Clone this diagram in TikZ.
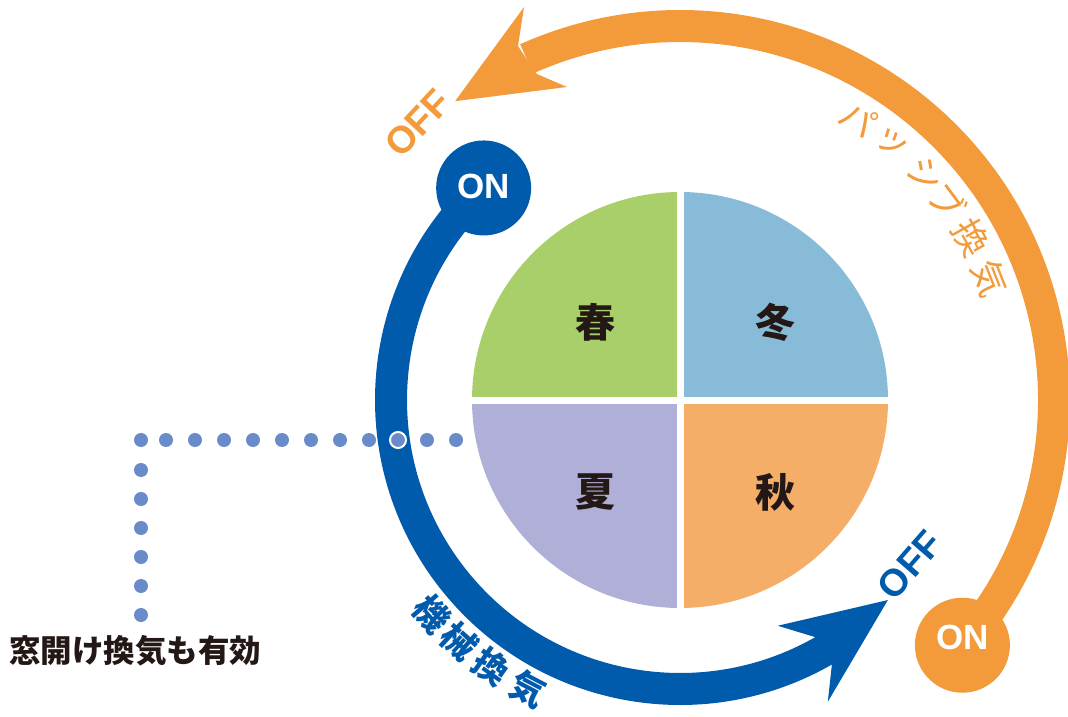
\documentclass[tikz,border=0pt]{standalone}
\usepackage{fontspec}
\newfontfamily\jpfont{Noto Sans CJK JP}
\newfontfamily\latfont{Liberation Sans}
\usetikzlibrary{calc}
\definecolor{springgreen}{HTML}{A9CF6B}
\definecolor{winterblue}{HTML}{88BBD8}
\definecolor{summerpurple}{HTML}{AFAFD7}
\definecolor{autumnorange}{HTML}{F5AE68}
\definecolor{passorange}{HTML}{F39A3B}
\definecolor{mechblue}{HTML}{005BAC}
\definecolor{dotblue}{HTML}{6A8BCA}
\definecolor{inkblack}{HTML}{231815}
\tikzset{
  season/.style={font=\jpfont\bfseries\fontsize{40}{40}\selectfont, text=inkblack, inner sep=0},
  onmark/.style={circle, minimum size=95, inner sep=0},
  ontext/.style={font=\latfont\bfseries\fontsize{35}{35}\selectfont, text=white, inner sep=0},
  offtext/.style={font=\latfont\bfseries\fontsize{38}{38}\selectfont, rotate=47, inner sep=0},
  arctext/.style={font=\jpfont\fontsize{36}{36}\selectfont, inner sep=0},
}
\begin{document}
\begin{tikzpicture}[x=1pt,y=1pt]
\useasboundingbox (0,0) rectangle (1068,716);
\coordinate (C) at (680,316);

% four seasons
\fill[springgreen] (C) -- ++(90:208) arc (90:180:208) -- cycle;
\fill[winterblue] (C) -- ++(0:208) arc (0:90:208) -- cycle;
\fill[summerpurple] (C) -- ++(180:208) arc (180:270:208) -- cycle;
\fill[autumnorange] (C) -- ++(270:208) arc (270:360:208) -- cycle;
\draw[white, line width=7] ($(C)+(0,212)$) -- ($(C)+(0,-212)$);
\draw[white, line width=7] ($(C)+(-212,0)$) -- ($(C)+(212,0)$);
\node[season] (spring) at (595,394) {春};
\node[season] (winter) at (775,394) {冬};
\node[season] (summer) at (595,224) {夏};
\node[season] (autumn) at (775,224) {秋};

% passive ventilation
\node[onmark, fill=passorange] (onO) at ($(C)+(-40.97:374)$) {};
\draw[passorange, line width=32] (onO.center) arc (-40.97:114.2:374);
\fill[passorange] ($(C)+(126.97:374)$) -- ($(C)+(111.65:422.8)$)
  -- ($(C)+(114.6:389.3)$) -- ($(C)+(113.7:356)$) -- ($(C)+(109.85:332.8)$) -- cycle;
\node[ontext] at ([yshift=8]onO.center) {ON};
\node[offtext, text=passorange] (offO) at (418,593) {OFF};
\foreach \ch/\a [count=\i] in {パ/57.7,ッ/50.6,シ/42.6,ブ/36.7,換/29.1,気/21.5}
  \node[arctext, text=passorange, rotate=\a-90] (pas\i) at ($(C)+(\a:333)$) {\ch};

% mechanical ventilation
\node[onmark, fill=mechblue] (onB) at ($(C)+(132.8:289)$) {};
\draw[mechblue, line width=32] (onB.center) arc (132.8:300:289);
\fill[mechblue] ($(C)+(316.1:288.5)$) -- ($(C)+(293.4:246)$)
  -- ($(C)+(299.7:273)$) -- ($(C)+(299.8:305.5)$) -- ($(C)+(296.1:336)$) -- cycle;
\node[ontext] at ([yshift=2]onB.center) {ON};
\node[offtext, text=mechblue, rotate=2] (offB) at (910,151) {OFF};
\foreach \ch/\a [count=\i] in {機/220.8,械/227.6,換/234.7,気/242.3}
  \node[arctext, font=\jpfont\bfseries\fontsize{35}{35}\selectfont, text=mechblue,
    rotate=\a+90] (mech\i) at ($(C)+(\a:327)$) {\ch};

% window ventilation
\foreach \x in {141,166,195,224,...,456}
  \fill[dotblue] (\x,276) circle (7);
\foreach \y in {246,217,...,101}
  \fill[dotblue] (141,\y) circle (7);
\filldraw[fill=dotblue, draw=white, line width=2] (398,276) circle (8);
\node[font=\jpfont\bfseries\fontsize{31.5}{31.5}\selectfont, text=inkblack,
  anchor=west, inner sep=0] (win) at (9,65) {窓開け換気も有効};
\end{tikzpicture}
\end{document}
